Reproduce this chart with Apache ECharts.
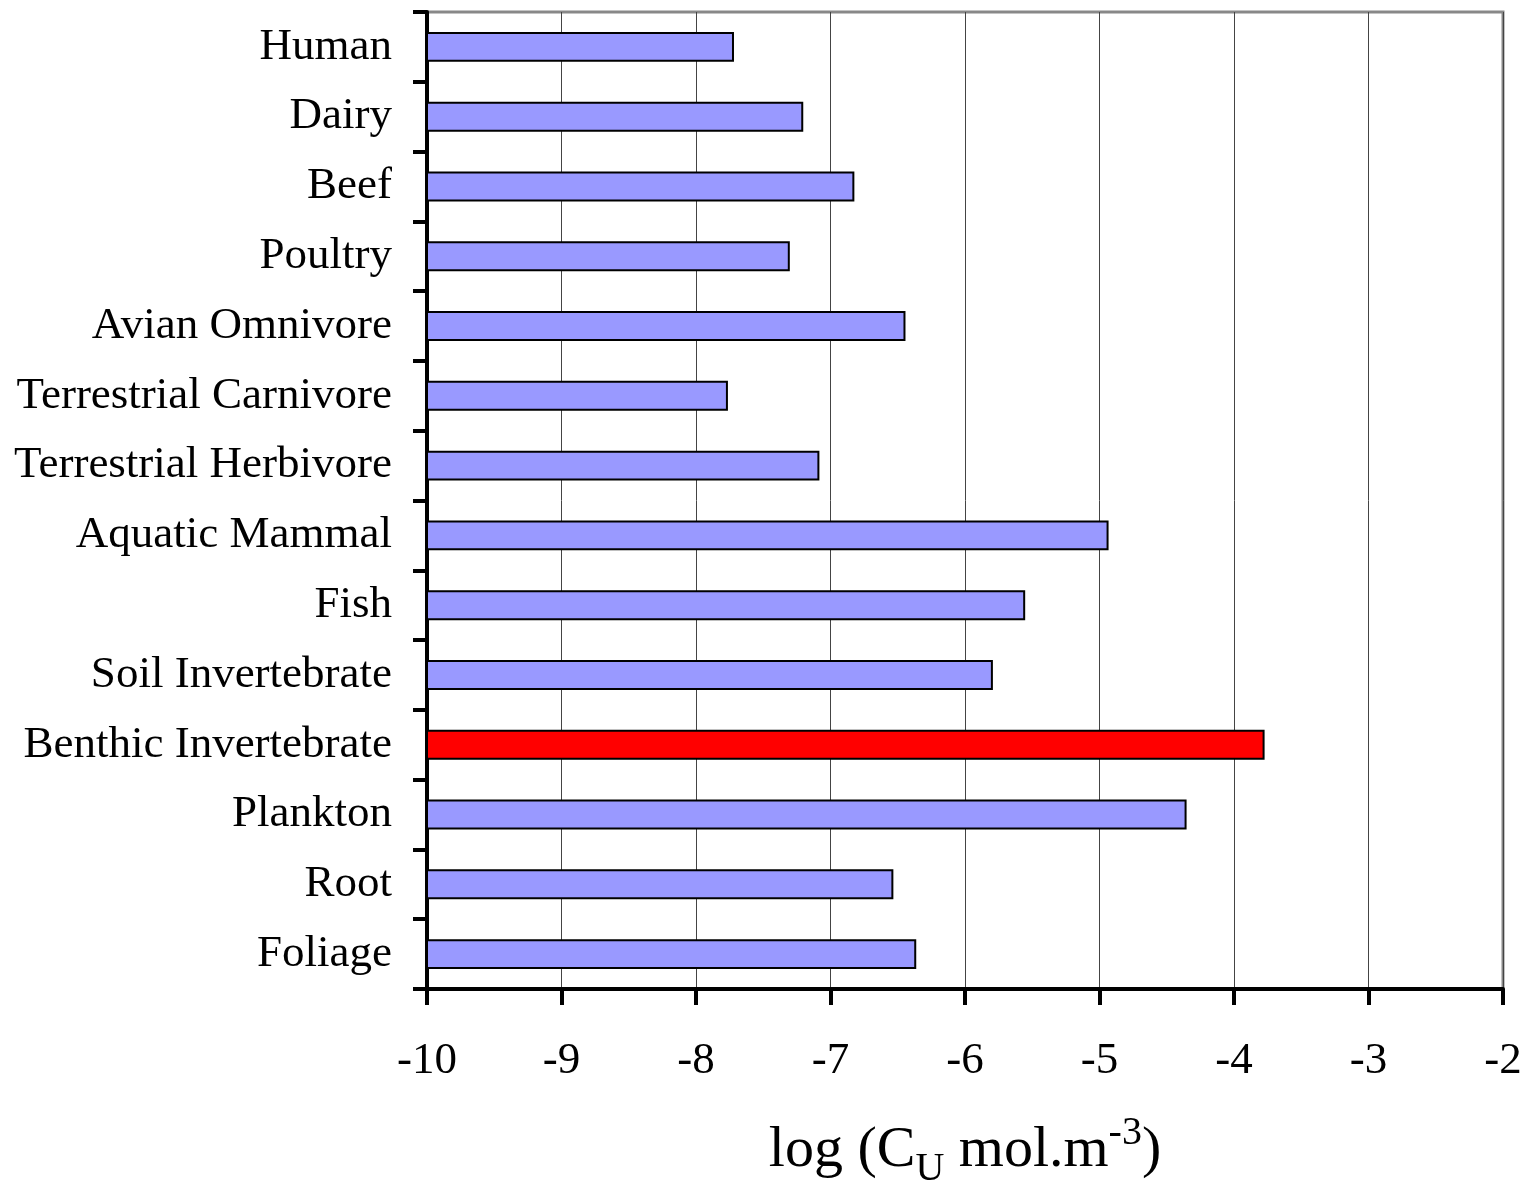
<!DOCTYPE html>
<html>
<head>
<meta charset="utf-8">
<script src="https://cdn.jsdelivr.net/npm/echarts@6/dist/echarts.min.js"></script>
<style>html,body{margin:0;padding:0;background:#fff;}#c{width:1532px;height:1186px;}</style>
</head>
<body>
<div id="c"></div>
<script>
// Categories listed bottom to top
const categories = ['Foliage','Root','Plankton','Benthic Invertebrate','Soil Invertebrate','Fish','Aquatic Mammal','Terrestrial Herbivore','Terrestrial Carnivore','Avian Omnivore','Poultry','Beef','Dairy','Human'];
const values = [-6.37, -6.54, -4.36, -3.78, -5.80, -5.56, -4.94, -7.09, -7.77, -6.45, -7.31, -6.83, -7.21, -7.725];
const highlighted = ['Benthic Invertebrate'];
const xTicks = [-10, -9, -8, -7, -6, -5, -4, -3, -2];

const FONT = '"Liberation Serif", "Times New Roman", serif';
const chart = echarts.init(document.getElementById('c'), null, {renderer: 'canvas'});
const xmin = xTicks[0], xmax = xTicks[xTicks.length - 1];

chart.setOption({
  animation: false,
  backgroundColor: '#fff',
  grid: {left: 427, right: 29, top: 12, bottom: 197, show: true, borderColor: '#888', borderWidth: 3, backgroundColor: 'transparent', containLabel: false, outerBoundsMode: 'none'},
  xAxis: {
    type: 'value', min: xmin, max: xmax, interval: 1,
    axisLine: {show: true, onZero: false, lineStyle: {color: '#000', width: 4}},
    axisTick: {show: true, length: 16, lineStyle: {color: '#000', width: 4}},
    axisLabel: {fontFamily: FONT, fontSize: 45, color: '#000', margin: 50},
    splitLine: {show: true, lineStyle: {color: '#444', width: 1}},
    name: 'log (C{sub|U} mol.m{sup|-3})',
    nameLocation: 'middle', nameGap: 124,
    nameTextStyle: {
      fontFamily: FONT, fontSize: 58, color: '#000', lineHeight: 76,
      rich: {
        sub: {fontFamily: FONT, fontSize: 40, color: '#000', verticalAlign: 'bottom', lineHeight: 76},
        sup: {fontFamily: FONT, fontSize: 40, color: '#000', verticalAlign: 'top', lineHeight: 76}
      }
    }
  },
  yAxis: {
    type: 'category', data: categories,
    axisLine: {show: true, lineStyle: {color: '#000', width: 4}},
    axisTick: {show: true, length: 14, lineStyle: {color: '#000', width: 4}},
    axisLabel: {fontFamily: FONT, fontSize: 45, color: '#000', margin: 35, padding: [4, 0, 0, 0]},
    splitLine: {show: false}
  },
  series: [{
    type: 'custom',
    data: values.map((v, i) => [v, i]),
    encode: {x: 0, y: 1},
    clip: false,
    renderItem: function (params, api) {
      const v = api.value(0), idx = api.value(1);
      const p0 = api.coord([xmin, idx]);
      const p1 = api.coord([v, idx]);
      const h = api.size([0, 1])[1] * 0.4;
      const isHi = highlighted.indexOf(categories[idx]) >= 0;
      return {
        type: 'rect',
        shape: {x: p0[0], y: p0[1] - h / 2, width: p1[0] - p0[0], height: h},
        style: {fill: isHi ? '#FF0000' : '#9999FF', stroke: '#000', lineWidth: 2}
      };
    }
  }]
});
</script>
</body>
</html>
